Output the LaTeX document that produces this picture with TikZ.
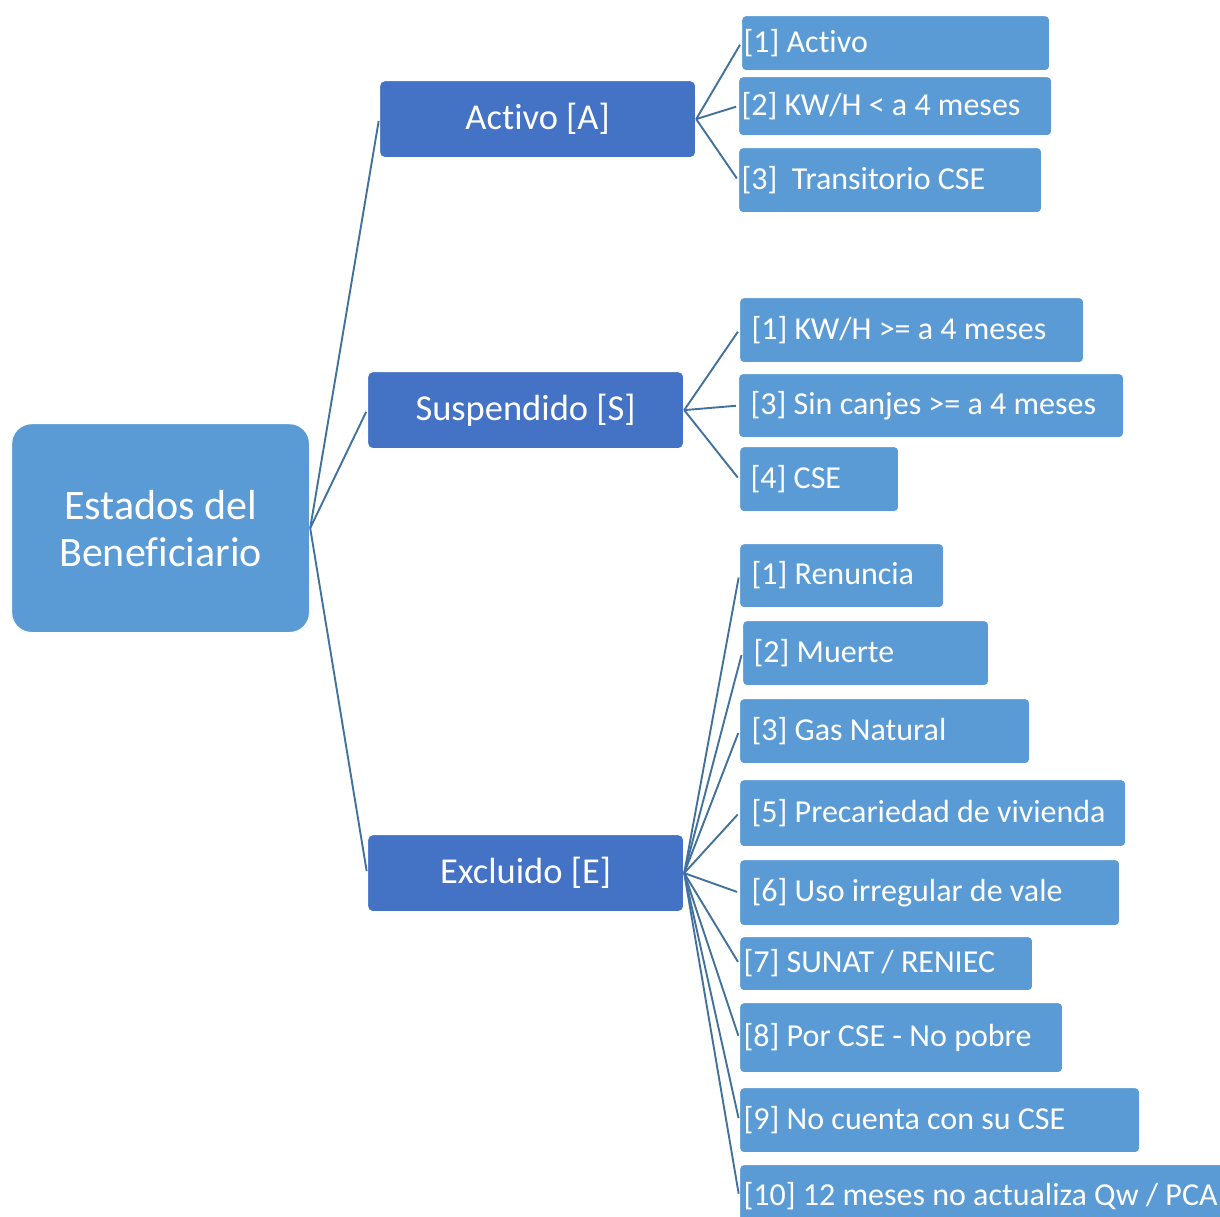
\documentclass[tikz,border=0pt]{standalone}
\usepackage{fontspec}
\setmainfont{Carlito}[Ligatures=NoCommon]
\definecolor{lb}{RGB}{91,155,213}
\definecolor{db}{RGB}{68,114,196}
\definecolor{ln}{RGB}{65,113,156}
\newcommand\leaf[7]{\node[leaf, inner xsep=#6pt, minimum height=\fpeval{#5-#3}pt, text width=\fpeval{#4-#2-2*#6}pt] (#1) at (#2,#3) {\mbox{\spaceskip=0pt\xspaceskip=0pt\relax #7}};}
\begin{document}
\begin{tikzpicture}[x=1pt,y=-1pt,
  leaf/.style={draw=white, line width=1.2pt, fill=lb, rounded corners=4pt, text=white,
    font=\fontsize{32}{38}\selectfont, anchor=north west, align=left, inner ysep=0pt},
  mid/.style={draw=white, line width=1.2pt, fill=db, rounded corners=5pt, text=white,
    font=\fontsize{36.5}{42}\selectfont, anchor=north west, minimum width=316pt, minimum height=77pt, inner sep=0pt},
  conn/.style={draw=ln, line width=1.9pt, shorten >=2pt}]
\useasboundingbox (0,0) rectangle (1220,1216);
\node[draw=white, line width=1.2pt, fill=lb, rounded corners=20pt, text=white, anchor=north west,
  minimum width=298pt, minimum height=209pt, align=center, inner sep=0pt,
  font=\fontsize{42}{47}\selectfont] (root) at (11,423) {Estados del\\Beneficiario};
\node[mid] (A) at (379,80) {Activo [A]};
\node[mid] (S) at (367,371) {Suspendido [S]};
\node[mid] (E) at (367,834) {Excluido [E]};
% Activo children
\leaf{A1}{741}{15}{1049}{70}{2}{[1] Activo}
\leaf{A2}{738}{76}{1051}{135}{3}{[2] KW/H < a 4 meses}
\leaf{A3}{738}{147}{1041}{212}{3}{[3]~~Transitorio CSE}
% Suspendido children
\leaf{S1}{739}{297}{1083}{362}{12}{[1] KW/H >= a 4 meses}
\leaf{S3}{738}{373}{1123}{437}{12}{[3] Sin canjes >= a 4 meses}
\leaf{S4}{739}{446}{898}{511}{11}{[4] CSE}
% Excluido children
\leaf{E1}{739}{543}{943}{607}{12}{[1] Renuncia}
\leaf{E2}{742}{620}{988}{685}{11}{[2] Muerte}
\leaf{E3}{739}{698}{1029}{763}{12}{[3] Gas Natural}
\leaf{E5}{739}{779}{1125}{846}{12}{[5] Precariedad de vivienda}
\leaf{E6}{739}{859}{1119}{925}{12}{[6] Uso irregular de vale}
\leaf{E7}{739}{936}{1032}{990}{4}{[7] SUNAT / RENIEC}
\leaf{E8}{739}{1002}{1062}{1072}{4}{[8] Por CSE - No pobre}
\leaf{E9}{739}{1087}{1139}{1152}{4}{[9] No cuenta con su CSE}
\leaf{E10}{739}{1164}{1226}{1226}{4}{[10] 12 meses no actualiza Qw / PCA}
% connectors
\foreach \c in {A,S,E} \draw[conn] (root.east) -- (\c.west);
\foreach \c in {A1,A2,A3} \draw[conn] (A.east) -- (\c.west);
\foreach \c in {S1,S3,S4} \draw[conn] (S.east) -- (\c.west);
\foreach \c in {E1,E2,E3,E5,E6,E7,E8,E9,E10} \draw[conn] (E.east) -- (\c.west);
\end{tikzpicture}
\end{document}
